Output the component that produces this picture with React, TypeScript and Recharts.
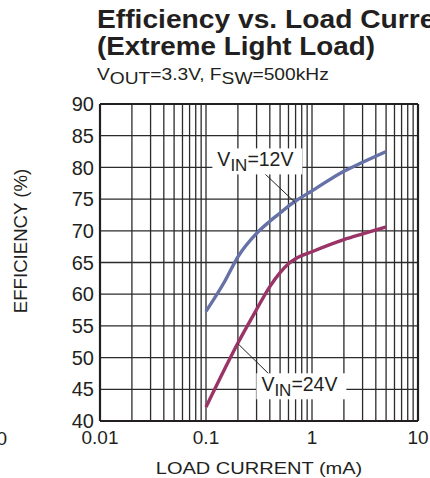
import React from 'react'
import {
  LineChart,
  Line,
  XAxis,
  YAxis,
  CartesianGrid,
  ReferenceLine,
  ReferenceDot,
} from 'recharts'

// load current in mA, efficiency in %
const loadCurrent = [0.1, 0.15, 0.2, 0.3, 0.4, 0.5, 0.6, 0.7, 1, 2, 3, 5]
const effVin12 = [57.3, 62.0, 65.9, 69.6, 71.5, 72.8, 73.9, 74.7, 76.3, 79.4, 80.8, 82.5]
const effVin24 = [42.2, 48.2, 52.3, 57.6, 61.2, 63.4, 64.8, 65.6, 66.7, 68.6, 69.5, 70.6]

const xTicks = [0.01, 0.1, 1, 10]
const xTickLabels = ['0.01', '0.1', '1', '10']
const yTicks = [40, 45, 50, 55, 60, 65, 70, 75, 80, 85, 90]
const xGrid = [
  0.02, 0.03, 0.04, 0.05, 0.06, 0.07, 0.08, 0.09,
  0.1, 0.2, 0.3, 0.4, 0.5, 0.6, 0.7, 0.8, 0.9,
  1, 2, 3, 4, 5, 6, 7, 8, 9,
]

const data = loadCurrent.map((x, i) => ({ x, v12: effVin12[i], v24: effVin24[i] }))

const INK = '#231f20'
const GRID = '#2b2b2b'
const FONT = '"Liberation Sans", Arial, Helvetica, sans-serif'

// white-backed annotation, anchored at the text start / baseline
function Callout({ cx, cy, value, dy = 0 }: { cx: number; cy: number; value: string; dy?: number }) {
  const y = cy + dy
  return (
    <g>
      <rect x={cx - 5} y={y - 18} width={90} height={26} fill="#fff" />
      <text x={cx} y={y} fontFamily={FONT} fontSize={19.5} fill={INK}>
        V
        <tspan fontSize={17} dy={5}>IN</tspan>
        <tspan dy={-5}>{value}</tspan>
      </text>
    </g>
  )
}

export default function App() {
  return (
    <div style={{ position: 'relative', width: 430, height: 478, background: '#fff', overflow: 'hidden' }}>
      <style>{`body{margin:0}`}</style>
      <LineChart
        width={430}
        height={478}
        data={data}
        margin={{ top: 104, right: 12, bottom: 27, left: 40 }}
      >
        <CartesianGrid vertical={false} stroke={GRID} strokeWidth={1.3} strokeOpacity={1} />
        {xGrid.map((v) => (
          <ReferenceLine key={v} x={v} stroke={GRID} strokeWidth={1.3} />
        ))}
        <ReferenceLine x={0.01} stroke={INK} strokeWidth={2.2} />
        <ReferenceLine x={10} stroke={INK} strokeWidth={2.2} />
        <ReferenceLine y={40} stroke={INK} strokeWidth={2.2} />
        <ReferenceLine y={90} stroke={INK} strokeWidth={2.2} />
        <XAxis
          dataKey="x"
          type="number"
          scale="log"
          domain={[0.01, 10]}
          allowDataOverflow
          ticks={xTicks}
          tickFormatter={(v: number) => xTickLabels[xTicks.indexOf(v)] ?? String(v)}
          axisLine={false}
          tickLine={false}
          tickSize={0}
          tickMargin={10}
          height={30}
          tick={{ fill: INK, fontSize: 19, fontFamily: FONT }}
          interval={0}
        />
        <YAxis
          type="number"
          domain={[40, 90]}
          ticks={yTicks}
          axisLine={false}
          tickLine={false}
          tickSize={0}
          tickMargin={6}
          width={60}
          tick={{ fill: INK, fontSize: 20, fontFamily: FONT }}
          interval={0}
        />
        <Line
          dataKey="v12"
          type="monotone"
          stroke="#6571a7"
          strokeWidth={3.4}
          dot={false}
          isAnimationActive={false}
        />
        <Line
          dataKey="v24"
          type="monotone"
          stroke="#9b3466"
          strokeWidth={3.4}
          dot={false}
          isAnimationActive={false}
        />
        <ReferenceDot
          x={0.128}
          y={80}
          r={0}
          shape={(p: any) => <Callout cx={p.cx} cy={p.cy} value="=12V" dy={-1} />}
        />
        <ReferenceDot
          x={0.333}
          y={45}
          r={0}
          shape={(p: any) => <Callout cx={p.cx} cy={p.cy} value="=24V" dy={2} />}
        />
        <ReferenceLine segment={[{ x: 0.31, y: 80 }, { x: 0.69, y: 74.5 }]} stroke={INK} strokeWidth={1} />
        <ReferenceLine segment={[{ x: 0.2, y: 52.2 }, { x: 0.41, y: 47.1 }]} stroke={INK} strokeWidth={1} />
      </LineChart>

      <svg
        width={430}
        height={478}
        style={{ position: 'absolute', left: 0, top: 0, pointerEvents: 'none' }}
      >
        <g fontFamily={FONT} fill={INK}>
          <text transform="translate(97,27.7) scale(1.085,1)" fontSize={26} fontWeight="bold">
            Efficiency vs. Load Current
          </text>
          <text transform="translate(97,55) scale(1.07,1)" fontSize={26} fontWeight="bold">
            (Extreme Light Load)
          </text>
          <text transform="translate(97,80) scale(1.2,1)" fontSize={16}>
            V<tspan dy={4}>OUT</tspan>
            <tspan dy={-4}>=3.3V, F</tspan>
            <tspan dy={4}>SW</tspan>
            <tspan dy={-4}>=500kHz</tspan>
          </text>
          <text transform="translate(259,474) scale(1.165,1)" fontSize={17.2} textAnchor="middle">
            LOAD CURRENT (mA)
          </text>
          <text transform="translate(26.5,241) rotate(-90)" fontSize={18.6} textAnchor="middle">
            EFFICIENCY (%)
          </text>
          <text x={7} y={445} fontSize={19} textAnchor="end">
            10
          </text>
        </g>
      </svg>
    </div>
  )
}
